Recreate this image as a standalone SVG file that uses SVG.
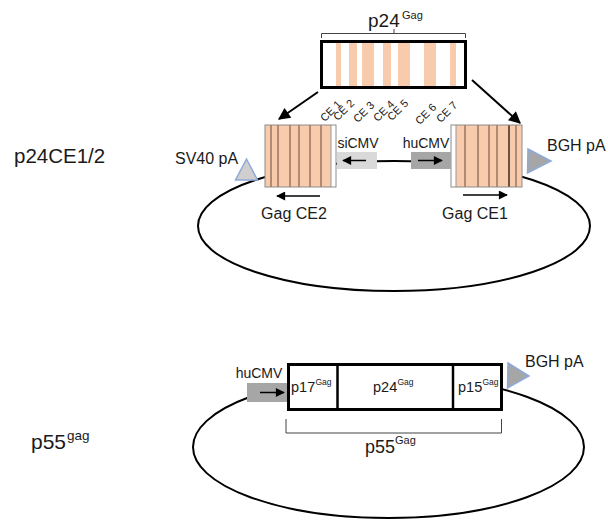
<svg xmlns="http://www.w3.org/2000/svg" width="608" height="523" viewBox="0 0 608 523">
<style>
text{font-family:"Liberation Sans",Arial,sans-serif;fill:#1a1a1a}
.plasmid{fill:none;stroke:#000;stroke-width:2}
.orange{fill:#f8cbad}
.band{stroke:#6b4a3a;stroke-width:1}
.cebox{fill:none;stroke:#8c8c8c;stroke-width:1}
.arrow{stroke:#000;stroke-width:2;fill:none}
.sarrow{stroke:#000;stroke-width:1.5;fill:none}
.pa{stroke:#8eaadb;stroke-width:1.5}
.thick{fill:#fff;stroke:#000;stroke-width:3}
.brk{fill:none;stroke:#444;stroke-width:1}
</style>
<defs>
<marker id="bigHead" viewBox="0 0 10 10" refX="9" refY="5" markerWidth="7" markerHeight="6" orient="auto" markerUnits="strokeWidth"><path d="M0,0 L10,5 L0,10 z" fill="#000"/></marker>
<marker id="smallHead" viewBox="0 0 10 10" refX="9" refY="5" markerWidth="7" markerHeight="6" orient="auto" markerUnits="strokeWidth"><path d="M0,0 L10,5 L0,10 z" fill="#000"/></marker>
</defs>

<!-- top plasmid backbone -->
<g id="plasmid-top"><ellipse class="plasmid" cx="394" cy="226" rx="196" ry="65"/></g>
<g id="plasmid-bottom"><ellipse class="plasmid" cx="388.5" cy="447" rx="195.5" ry="71"/></g>

<g id="label-p24CE"><text x="14" y="163" font-size="20.5">p24CE1/2</text></g>
<g id="label-p55"><text x="31" y="449" font-size="21">p55</text><text x="67" y="440" font-size="13.5">gag</text></g>

<!-- p24 gene with conserved elements -->
<g id="p24-gene">
<text x="368" y="27" font-size="19">p24</text><text x="402" y="19" font-size="11">Gag</text>
<path class="brk" d="M321.5,38 V33.5 H465.5 V38 M394,33.5 V29"/>
<rect x="321.5" y="41.5" width="144" height="46" fill="#fff"/>
<g class="orange">
<rect x="336" y="43" width="5" height="43"/>
<rect x="349" y="43" width="8" height="43"/>
<rect x="362" y="43" width="12" height="43"/>
<rect x="383" y="43" width="8" height="43"/>
<rect x="398" y="43" width="12" height="43"/>
<rect x="424" y="43" width="12" height="43"/>
<rect x="450" y="43" width="6" height="43"/>
</g>
<rect x="321.5" y="41.5" width="144" height="46" fill="none" stroke="#000" stroke-width="3"/>
<g font-size="11" text-anchor="end">
<text transform="translate(342,105) rotate(-45)">CE 1</text>
<text transform="translate(355,104) rotate(-45)">CE 2</text>
<text transform="translate(375,106) rotate(-45)">CE 3</text>
<text transform="translate(395,105) rotate(-45)">CE 4</text>
<text transform="translate(409,104) rotate(-45)">CE 5</text>
<text transform="translate(437,108) rotate(-45)">CE 6</text>
<text transform="translate(458,106) rotate(-45)">CE 7</text>
</g>
</g>

<!-- Gag CE2 block -->
<g id="gag-ce2">
<rect x="265" y="125" width="66" height="62" class="orange"/>
<rect x="331" y="125" width="5" height="62" fill="#fff"/>
<g class="band">
<line x1="271" y1="125" x2="271" y2="187"/><line x1="278" y1="125" x2="278" y2="187"/>
<line x1="290" y1="125" x2="290" y2="187"/><line x1="299" y1="125" x2="299" y2="187"/>
<line x1="310" y1="125" x2="310" y2="187"/><line x1="321" y1="125" x2="321" y2="187"/>
<line x1="331" y1="125" x2="331" y2="187" stroke="#999"/>
</g>
<rect x="265" y="125" width="71" height="62" class="cebox"/>
<text x="294" y="219" font-size="16" text-anchor="middle">Gag CE2</text>
</g>

<!-- Gag CE1 block -->
<g id="gag-ce1">
<rect x="451" y="125" width="5" height="62" fill="#fff"/>
<rect x="456" y="125" width="66" height="62" class="orange"/>
<g class="band">
<line x1="456" y1="125" x2="456" y2="187" stroke="#999"/>
<line x1="465" y1="125" x2="465" y2="187"/><line x1="478" y1="125" x2="478" y2="187"/>
<line x1="489" y1="125" x2="489" y2="187"/><line x1="497" y1="125" x2="497" y2="187"/>
<line x1="509" y1="125" x2="509" y2="187" stroke="#3a2a20" stroke-width="1.5"/><line x1="516" y1="125" x2="516" y2="187"/>
</g>
<rect x="451" y="125" width="71" height="62" class="cebox"/>
<text x="475" y="219" font-size="16" text-anchor="middle">Gag CE1</text>
</g>

<!-- promoters -->
<g id="sicmv">
<rect x="337" y="152" width="40" height="17" fill="#d9d9d9"/>
<text x="358" y="148" font-size="14" text-anchor="middle">siCMV</text>
</g>
<g id="hucmv-top">
<rect x="411" y="152" width="40" height="17" fill="#a6a6a6"/>
<text x="426" y="148" font-size="14" text-anchor="middle">huCMV</text>
</g>

<!-- polyA signals -->
<g id="sv40pa">
<polygon class="pa" points="246.5,159 235.5,180 257.5,180" fill="#d0cece"/>
<text x="175" y="164" font-size="16">SV40 pA</text>
</g>
<g id="bghpa-top">
<polygon class="pa" points="528,149 551,161 527.5,173" fill="#a6a6a6"/>
<text x="547" y="151" font-size="16">BGH pA</text>
</g>

<!-- p55 construct -->
<g id="p55-construct">
<rect x="288.5" y="364.5" width="213" height="45" class="thick"/>
<line x1="337.5" y1="364.5" x2="337.5" y2="409.5" stroke="#000" stroke-width="2.5"/>
<line x1="453" y1="364.5" x2="453" y2="409.5" stroke="#000" stroke-width="2.5"/>
<text x="291" y="392" font-size="14.5">p17</text><text x="315.5" y="385" font-size="8.5">Gag</text>
<text x="373" y="392" font-size="14.5">p24</text><text x="397.5" y="385" font-size="8.5">Gag</text>
<text x="458" y="392" font-size="14.5">p15</text><text x="482.5" y="385" font-size="8.5">Gag</text>
<path class="brk" d="M286,419 V433 H501.5 V419"/>
<text x="365" y="453" font-size="18">p55</text><text x="395" y="444" font-size="11">Gag</text>
</g>
<g id="hucmv-bottom">
<rect x="247" y="383" width="40" height="19" fill="#a6a6a6"/>
<text x="259" y="378" font-size="14" text-anchor="middle">huCMV</text>
</g>
<g id="bghpa-bottom">
<polygon class="pa" points="508,363 529,376 507.5,388" fill="#a6a6a6"/>
<text x="525" y="367" font-size="16">BGH pA</text>
</g>

<!-- connectors / direction arrows -->
<g id="connectors">
<line class="arrow" x1="318" y1="92" x2="279" y2="119" marker-end="url(#bigHead)"/>
<line class="arrow" x1="472" y1="80" x2="520" y2="123" marker-end="url(#bigHead)"/>
<line class="sarrow" x1="366" y1="160.5" x2="343" y2="160.5" marker-end="url(#smallHead)"/>
<line class="sarrow" x1="418" y1="160.5" x2="442" y2="160.5" marker-end="url(#smallHead)"/>
<line class="sarrow" x1="320" y1="196" x2="277" y2="196" marker-end="url(#smallHead)"/>
<line class="sarrow" x1="463" y1="195" x2="507" y2="195" marker-end="url(#smallHead)"/>
<line class="sarrow" x1="260" y1="392.5" x2="284" y2="392.5" marker-end="url(#smallHead)"/>
</g>
</svg>
